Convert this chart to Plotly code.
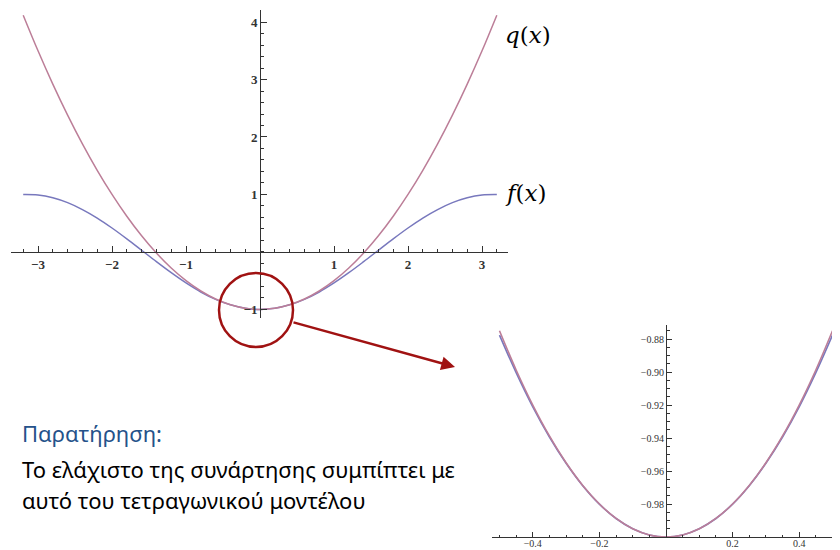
import plotly.graph_objects as go

# main view: f(x) and its quadratic model q(x)
x_main = [-3.2, -3.0, -2.8, -2.6, -2.4, -2.2, -2.0, -1.8, -1.6, -1.4, -1.2, -1.0, -0.8, -0.6, -0.4, -0.2,
          0.0, 0.2, 0.4, 0.6, 0.8, 1.0, 1.2, 1.4, 1.6, 1.8, 2.0, 2.2, 2.4, 2.6, 2.8, 3.0, 3.2]
f_main = [0.998, 0.99, 0.942, 0.857, 0.737, 0.589, 0.416, 0.227, 0.029, -0.17, -0.362, -0.54, -0.697, -0.825, -0.921, -0.98,
          -1.0, -0.98, -0.921, -0.825, -0.697, -0.54, -0.362, -0.17, 0.029, 0.227, 0.416, 0.589, 0.737, 0.857, 0.942, 0.99, 0.998]
q_main = [4.12, 3.5, 2.92, 2.38, 1.88, 1.42, 1.0, 0.62, 0.28, -0.02, -0.28, -0.5, -0.68, -0.82, -0.92, -0.98,
          -1.0, -0.98, -0.92, -0.82, -0.68, -0.5, -0.28, -0.02, 0.28, 0.62, 1.0, 1.42, 1.88, 2.38, 2.92, 3.5, 4.12]

# zoomed view around the minimum
x_zoom = [-0.5, -0.45, -0.4, -0.35, -0.3, -0.25, -0.2, -0.15, -0.1, -0.05, 0.0,
          0.05, 0.1, 0.15, 0.2, 0.25, 0.3, 0.35, 0.4, 0.45, 0.5]
f_zoom = [-0.8776, -0.9004, -0.9211, -0.9394, -0.9553, -0.9689, -0.9801, -0.9888, -0.995, -0.99875, -1.0,
          -0.99875, -0.995, -0.9888, -0.9801, -0.9689, -0.9553, -0.9394, -0.9211, -0.9004, -0.8776]
q_zoom = [-0.875, -0.89875, -0.92, -0.93875, -0.955, -0.96875, -0.98, -0.98875, -0.995, -0.99875, -1.0,
          -0.99875, -0.995, -0.98875, -0.98, -0.96875, -0.955, -0.93875, -0.92, -0.89875, -0.875]

main_xticks = [-3, -2, -1, 1, 2, 3]
main_yticks = [-1, 1, 2, 3, 4]
zoom_xticks = [-0.4, -0.2, 0.2, 0.4]
zoom_yticks = [-0.98, -0.96, -0.94, -0.92, -0.90, -0.88]

f_color = '#7878bd'
q_color = '#bc7e98'
axis_color = '#333333'
tick_font = dict(family='Liberation Serif', size=13, color='#333333', weight='bold')
small_font = dict(family='Liberation Serif', size=10, color='#333333')

W, H = 840, 550
OFF = 8  # page body margin


def px(x):
    return (x - OFF) / W


def py(y):
    return 1 - (y - OFF) / H


fig = go.Figure()
fig.add_trace(go.Scatter(x=x_main, y=f_main, mode='lines', line=dict(color=f_color, width=1.5, shape='spline'),
                         xaxis='x', yaxis='y', showlegend=False))
fig.add_trace(go.Scatter(x=x_main, y=q_main, mode='lines', line=dict(color=q_color, width=1.5, shape='spline'),
                         xaxis='x', yaxis='y', showlegend=False))
fig.add_trace(go.Scatter(x=x_zoom, y=f_zoom, mode='lines', line=dict(color=f_color, width=1.6, shape='spline'),
                         xaxis='x2', yaxis='y2', showlegend=False))
fig.add_trace(go.Scatter(x=x_zoom, y=q_zoom, mode='lines', line=dict(color=q_color, width=1.6, shape='spline'),
                         xaxis='x2', yaxis='y2', showlegend=False))

common = dict(showgrid=False, zeroline=False, showline=True, linecolor=axis_color, linewidth=1,
              ticks='inside', tickcolor=axis_color, tickmode='array')

fig.update_layout(
    width=W, height=H,
    margin=dict(l=0, r=0, t=0, b=0),
    paper_bgcolor='white', plot_bgcolor='white',
    xaxis=dict(common, domain=[px(11), px(508)], range=[-3.365, 3.351], anchor='free', position=py(252),
               tickvals=main_xticks, ticklen=6, tickfont=tick_font,
               minor=dict(dtick=0.2, tick0=0, ticks='inside', ticklen=3, tickcolor=axis_color)),
    yaxis=dict(common, domain=[py(318), py(10)], range=[-1.15, 4.21], anchor='free', position=px(260),
               tickvals=main_yticks, ticklen=6, tickfont=tick_font,
               minor=dict(dtick=0.2, tick0=0, ticks='inside', ticklen=3, tickcolor=axis_color)),
    xaxis2=dict(common, domain=[px(492), px(838)], range=[-0.5225, 0.5165], anchor='y2',
                tickvals=zoom_xticks, tickformat='.1f', ticklen=5, tickfont=small_font, ticklabelstandoff=-3,
                minor=dict(dtick=0.05, tick0=0, ticks='inside', ticklen=2.5, tickcolor=axis_color)),
    yaxis2=dict(common, domain=[py(537), py(325)], range=[-1.0, -0.8715], anchor='free', position=px(666),
                tickvals=zoom_yticks, tickformat='.2f', ticklen=5, tickfont=small_font,
                minor=dict(dtick=0.005, tick0=0, ticks='inside', ticklen=2.5, tickcolor=axis_color)),
)

label_font = dict(family='DejaVu Serif', size=23, color='black')
fig.add_annotation(x=px(503), y=py(35), xref='paper', yref='paper', xanchor='left', yanchor='middle',
                   text='<i>q</i>(<i>x</i>)', showarrow=False, font=label_font)
fig.add_annotation(x=px(503), y=py(193), xref='paper', yref='paper', xanchor='left', yanchor='middle',
                   text='<i>f</i>(<i>x</i>)', showarrow=False, font=label_font)

# highlight circle and arrow to the zoomed view
fig.add_shape(type='circle', xref='paper', yref='paper',
              x0=px(219), x1=px(293), y0=py(347), y1=py(273),
              line=dict(color='#a01212', width=2.5))
fig.add_annotation(x=px(455), y=py(367), xref='paper', yref='paper', ax=-163, ay=-45,
                   text='', showarrow=True, arrowhead=2, arrowsize=1.1, arrowwidth=2.5, arrowcolor='#a01212')

text_font = dict(family='Noto Sans', size=22, color='black')
fig.add_annotation(x=px(20), y=py(433), xref='paper', yref='paper', xanchor='left', yanchor='middle',
                   text='Παρατήρηση:', showarrow=False, font=dict(text_font, color='#25528a'))
fig.add_annotation(x=px(20), y=py(469), xref='paper', yref='paper', xanchor='left', yanchor='middle',
                   text='Το ελάχιστο της συνάρτησης συμπίπτει με', showarrow=False, font=text_font)
fig.add_annotation(x=px(20), y=py(500), xref='paper', yref='paper', xanchor='left', yanchor='middle',
                   text='αυτό του τετραγωνικού μοντέλου', showarrow=False, font=text_font)

fig.write_html("out.html")
